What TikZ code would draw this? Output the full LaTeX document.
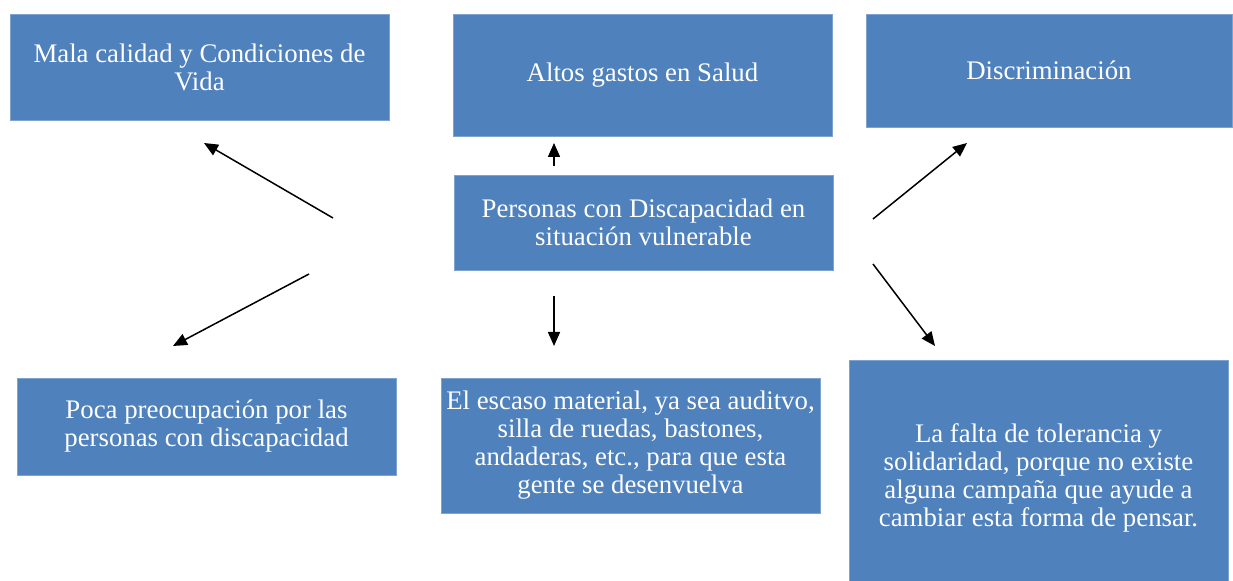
\documentclass[tikz,border=0pt]{standalone}
\usepackage{fontspec}
\setmainfont{Liberation Serif}
\usetikzlibrary{arrows.meta}
\definecolor{boxblue}{HTML}{4F81BD}
\definecolor{boxline}{HTML}{7FA3CF}
\begin{document}
\begin{tikzpicture}[x=0.5pt,y=-0.5pt,
  boxtext/.style={text=white,align=center,inner sep=0pt,font=\fontsize{13.4}{14}\selectfont},
  box/.style={rectangle,fill=boxblue,draw=boxline,line width=0.3pt,boxtext},
  arr/.style={-{Triangle[length=7pt,width=6pt]},line width=0.75pt}]
\useasboundingbox (0,0) rectangle (1233,581);
% boxes
\node [box,minimum width=189.5pt,minimum height=53pt] (calidad) at (199.5,67)
  {Mala calidad y Condiciones de\\Vida};
\node [box,minimum width=189.5pt,minimum height=61pt] (gastos) at (642.5,75)
  {Altos gastos en Salud};
\node [box,minimum width=183pt,minimum height=56.5pt] (discrim) at (1049,70.5)
  {Discriminación};
\node [box,minimum width=189.5pt,minimum height=47.5pt] (center) at (643.5,222.5)
  {Personas con Discapacidad en\\situación vulnerable};
\node [box,minimum width=189.5pt,minimum height=48.5pt] (preocup) at (206.5,426.5)
  {Poca preocupación por las\\personas con discapacidad};
\node [box,minimum width=189.5pt,minimum height=67.5pt] (material) at (630.5,445.5)
  {El escaso material, ya sea auditvo,\\silla de ruedas, bastones,\\andaderas, etc., para que esta\\gente se desenvuelva};
\node [box,minimum width=189.5pt,minimum height=110.5pt,
  label={[boxtext,yshift=-3.5pt]center:La falta de tolerancia y\\solidaridad, porque no existe\\alguna campaña que ayude a\\cambiar esta forma de pensar.}]
  (toleran) at (1038.5,470.5) {};
% arrow ends
\coordinate (a1) at (333,218);  \coordinate (b1) at (204,143);
\coordinate (a2) at (309,274);  \coordinate (b2) at (173,346);
\coordinate (a3) at (554,166);  \coordinate (b3) at (554,143);
\coordinate (a4) at (554,296);  \coordinate (b4) at (554,346);
\coordinate (a5) at (873,219);  \coordinate (b5) at (967,143);
\coordinate (a6) at (873,264);  \coordinate (b6) at (935,346);
\draw [arr] (a1) -- (b1);
\draw [arr] (a2) -- (b2);
\draw [arr] (a3) -- (b3);
\draw [arr] (a4) -- (b4);
\draw [arr] (a5) -- (b5);
\draw [arr] (a6) -- (b6);
\end{tikzpicture}
\end{document}
